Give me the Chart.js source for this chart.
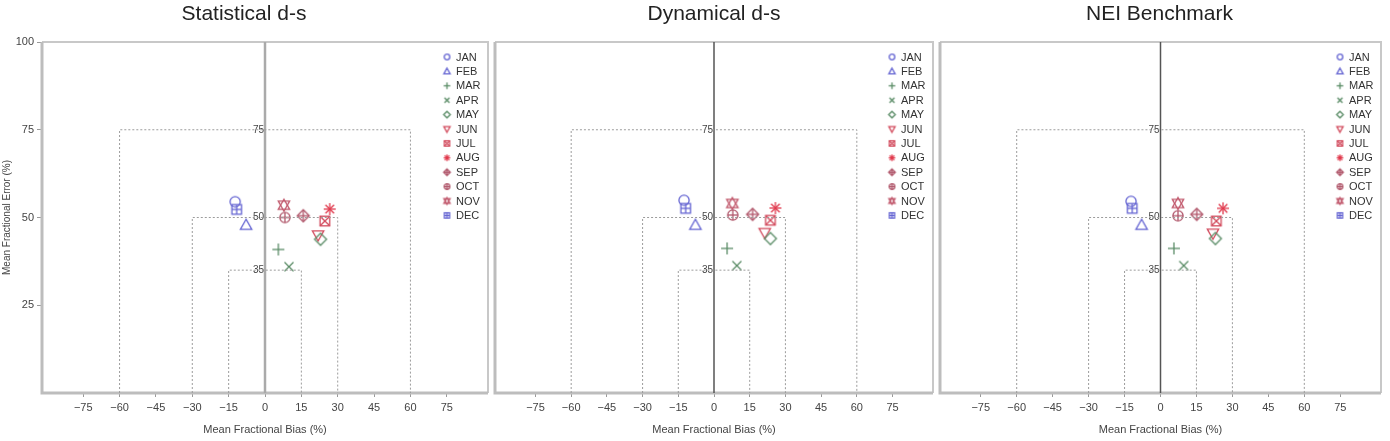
<!DOCTYPE html>
<html>
<head>
<meta charset="utf-8">
<script src="https://cdn.jsdelivr.net/npm/chart.js@4.4.1/dist/chart.umd.min.js"></script>
<style>
  html, body { margin: 0; padding: 0; background: #fff; }
  body { width: 1390px; height: 441px; position: relative; overflow: hidden; }
  canvas { position: absolute; top: 0; }
</style>
</head>
<body>
<canvas id="c1" width="500" height="441" style="left:0"></canvas>
<canvas id="c2" width="452" height="441" style="left:488px"></canvas>
<canvas id="c3" width="455" height="441" style="left:933px"></canvas>
<script>
// month categories and marker kinds (R pch 1..12)
const months = ['JAN', 'FEB', 'MAR', 'APR', 'MAY', 'JUN', 'JUL', 'AUG', 'SEP', 'OCT', 'NOV', 'DEC'];
const markerKinds = ['circle', 'triangle', 'plus', 'x', 'diamond', 'tridown', 'squarex', 'asterisk', 'diamondplus', 'circleplus', 'hexagram', 'squareplus'];
const monthColors = ['#6464d2', '#6464d2', '#5a8c66', '#5a8c66', '#5a8c66', '#d24a5c', '#d24a5c', '#e0394c', '#b0566a', '#b0566a', '#c0566a', '#6464d2'];

// Statistical d-s
const statBias = [-12.3, -7.8, 5.5, 9.9, 22.9, 21.9, 24.7, 26.7, 15.8, 8.2, 7.8, -11.7];
const statErr  = [54.5, 47.8, 40.9, 36.0, 43.8, 45.0, 49.0, 52.4, 50.5, 50.0, 53.5, 52.3];
// Dynamical d-s
const dynBias = [-12.6, -7.8, 5.5, 9.6, 23.7, 21.3, 23.7, 25.8, 16.2, 7.9, 7.7, -11.9];
const dynErr  = [54.9, 47.8, 41.2, 36.3, 44.0, 45.7, 49.2, 52.7, 50.9, 50.7, 54.0, 52.6];
// NEI Benchmark
const neiBias = [-12.3, -7.9, 5.6, 9.7, 22.9, 21.9, 23.3, 26.1, 15.1, 7.3, 7.3, -11.8];
const neiErr  = [54.6, 47.8, 41.2, 36.3, 44.0, 45.5, 49.0, 52.6, 50.9, 50.5, 54.0, 52.6];

// performance goal / criteria boxes
const goalErr  = [75, 50, 35];
const goalBias = [60, 30, 15];

// tick labels
const xTicks = [-75, -60, -45, -30, -15, 0, 15, 30, 45, 60, 75];
const yTicks = [25, 50, 75, 100];

const FONT = "'Liberation Sans', Arial, sans-serif";

function makeMarker(kind, color, r) {
  const pad = 2;
  const s = Math.ceil(2 * r + 2 * pad);
  const cv = document.createElement('canvas');
  cv.width = s; cv.height = s;
  const g = cv.getContext('2d');
  const c = s / 2;
  g.strokeStyle = color;
  g.lineWidth = 1.3;
  const line = (x1, y1, x2, y2) => { g.beginPath(); g.moveTo(c + x1, c + y1); g.lineTo(c + x2, c + y2); g.stroke(); };
  const poly = pts => {
    g.beginPath();
    pts.forEach((p, i) => i ? g.lineTo(c + p[0], c + p[1]) : g.moveTo(c + p[0], c + p[1]));
    g.closePath(); g.stroke();
  };
  const tri = dir => poly([[0, -r * dir], [r * 0.95, r * 0.7 * dir], [-r * 0.95, r * 0.7 * dir]]);
  const sq = () => g.strokeRect(c - r * 0.8, c - r * 0.8, r * 1.6, r * 1.6);
  const circ = () => { g.beginPath(); g.arc(c, c, r * 0.85, 0, Math.PI * 2); g.stroke(); };
  const plus = k => { line(-r * k, 0, r * k, 0); line(0, -r * k, 0, r * k); };
  const ex = k => { line(-r * k, -r * k, r * k, r * k); line(-r * k, r * k, r * k, -r * k); };
  switch (kind) {
    case 'circle': circ(); break;
    case 'triangle': tri(1); break;
    case 'plus': plus(1); break;
    case 'x': ex(0.75); break;
    case 'diamond': poly([[0, -r], [r, 0], [0, r], [-r, 0]]); break;
    case 'tridown': tri(-1); break;
    case 'squarex': sq(); ex(0.8); break;
    case 'asterisk': plus(1); ex(0.72); break;
    case 'diamondplus': poly([[0, -r], [r, 0], [0, r], [-r, 0]]); plus(1); break;
    case 'circleplus': circ(); plus(0.85); break;
    case 'hexagram': tri(1); tri(-1); break;
    case 'squareplus': sq(); plus(0.8); break;
  }
  return cv;
}

const decor = {
  id: 'decor',
  beforeDatasetsDraw(chart, args, opts) {
    const { ctx, chartArea: a, scales: { x, y } } = chart;
    ctx.save();
    // frame
    ctx.strokeStyle = '#c8c8c8';
    ctx.lineWidth = 2;
    ctx.beginPath();
    ctx.moveTo(a.left, a.top); ctx.lineTo(a.right, a.top); ctx.lineTo(a.right, a.bottom);
    ctx.stroke();
    ctx.strokeStyle = '#bdbdbd';
    ctx.lineWidth = 3;
    ctx.beginPath();
    ctx.moveTo(a.left, a.top); ctx.lineTo(a.left, a.bottom); ctx.lineTo(a.right, a.bottom);
    ctx.stroke();
    // zero bias line
    const zx = x.getPixelForValue(0);
    ctx.strokeStyle = opts.zeroColor;
    ctx.lineWidth = opts.zeroWidth;
    ctx.beginPath();
    ctx.moveTo(zx, a.top); ctx.lineTo(zx, a.bottom);
    ctx.stroke();
    // goal labels
    ctx.fillStyle = '#444';
    ctx.font = '10px ' + FONT;
    ctx.textAlign = 'right';
    ctx.textBaseline = 'middle';
    goalErr.forEach(v => ctx.fillText(String(v), zx - 1, y.getPixelForValue(v)));
    ctx.restore();
  },
  afterDatasetsDraw(chart) {
    const { ctx, chartArea: a } = chart;
    ctx.save();
    ctx.font = '11px ' + FONT;
    ctx.fillStyle = '#333';
    ctx.textAlign = 'left';
    ctx.textBaseline = 'middle';
    let row = 0;
    chart.data.datasets.forEach(ds => {
      if (!ds.legendIcon) return;
      const yy = a.top + 15 + row * 14.4;
      const ic = ds.legendIcon;
      ctx.drawImage(ic, a.right - 41 - ic.width / 2, yy - ic.height / 2);
      ctx.fillText(ds.label, a.right - 32, yy + 0.5);
      row++;
    });
    ctx.restore();
  }
};

function makePanel(id, title, bias, err, cfg) {
  const datasets = [];
  goalErr.forEach((ge, i) => {
    const gb = goalBias[i];
    datasets.push({
      type: 'line',
      data: [{ x: -gb, y: 0 }, { x: -gb, y: ge }, { x: gb, y: ge }, { x: gb, y: 0 }],
      borderColor: '#9c9c9c',
      borderWidth: 1,
      borderDash: [2, 2],
      pointRadius: 0,
      fill: false,
      tension: 0
    });
  });
  months.forEach((m, i) => {
    datasets.push({
      type: 'scatter',
      label: m,
      data: [{ x: bias[i], y: err[i] }],
      pointStyle: makeMarker(markerKinds[i], monthColors[i], 6),
      pointRadius: 6,
      legendIcon: makeMarker(markerKinds[i], monthColors[i], 3.3)
    });
  });

  return new Chart(document.getElementById(id), {
    type: 'scatter',
    data: { datasets },
    plugins: [decor],
    options: {
      responsive: false,
      animation: false,
      devicePixelRatio: 1,
      layout: { padding: cfg.padding },
      plugins: {
        legend: { display: false },
        tooltip: { enabled: false },
        title: {
          display: true,
          text: title,
          color: '#222',
          font: { family: FONT, size: 21, weight: 'normal' },
          padding: { top: 1.4, bottom: 15.4 }
        },
        decor: { zeroColor: cfg.zeroColor, zeroWidth: cfg.zeroWidth }
      },
      scales: {
        x: {
          type: 'linear',
          min: -92,
          max: 92,
          afterBuildTicks: s => { s.ticks = xTicks.map(v => ({ value: v })); },
          afterFit: s => { s.height = 48; },
          border: { display: false },
          grid: { drawOnChartArea: false, drawTicks: true, tickLength: 4, color: '#999' },
          ticks: {
            autoSkip: false,
            maxRotation: 0,
            padding: 4,
            color: '#444',
            font: { family: FONT, size: 11 },
            callback: v => v < 0 ? '\u2212' + Math.abs(v) : String(v)
          },
          title: {
            display: true,
            text: 'Mean Fractional Bias (%)',
            color: '#444',
            font: { family: FONT, size: 11 },
            padding: { top: 0, bottom: 4 }
          }
        },
        y: {
          type: 'linear',
          min: 0,
          max: 100,
          display: cfg.showY,
          afterBuildTicks: s => { s.ticks = yTicks.map(v => ({ value: v })); },
          afterFit: s => { s.width = cfg.showY ? 42 : 0; },
          border: { display: false },
          grid: { drawOnChartArea: false, drawTicks: true, tickLength: 5, color: '#999' },
          ticks: {
            padding: 3,
            color: '#444',
            font: { family: FONT, size: 11 }
          },
          title: {
            display: true,
            text: 'Mean Fractional Error (%)',
            color: '#444',
            font: { family: FONT, size: 10 },
            padding: { top: 1, bottom: 0 }
          }
        }
      }
    }
  });
}

makePanel('c1', 'Statistical d-s', statBias, statErr,
  { showY: true, padding: { left: 0, right: 12, top: 0, bottom: 0 }, zeroColor: '#aaaaaa', zeroWidth: 2.5 });
makePanel('c2', 'Dynamical d-s', dynBias, dynErr,
  { showY: false, padding: { left: 3, right: 3, top: 0, bottom: 0 }, zeroColor: '#555555', zeroWidth: 1.5 });
makePanel('c3', 'NEI Benchmark', neiBias, neiErr,
  { showY: false, padding: { left: 3, right: 5, top: 0, bottom: 0 }, zeroColor: '#555555', zeroWidth: 1.5 });
</script>
</body>
</html>
